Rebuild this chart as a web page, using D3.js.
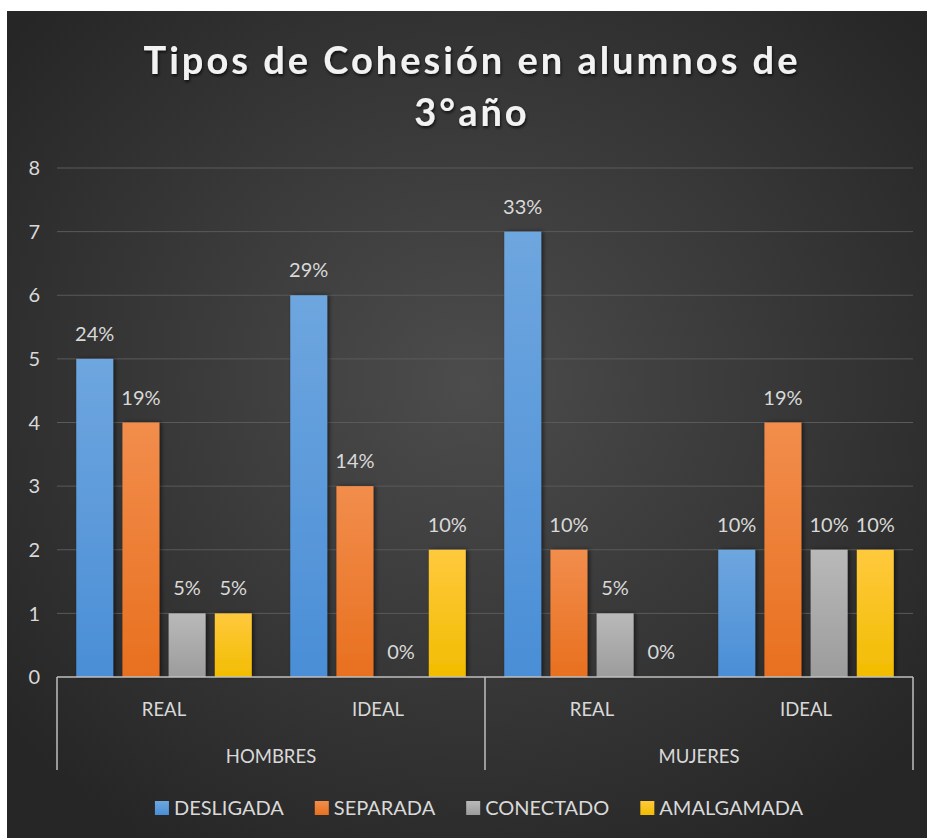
<!DOCTYPE html>
<html lang="es">
<head>
<meta charset="UTF-8">
<title>Tipos de Cohesión en alumnos de 3°año</title>
<script src="https://d3js.org/d3.v7.min.js"></script>
<style>
  body { margin: 0; background: #fff; }
  svg { display: block; }
  text { font-family: Lato, "Open Sans", sans-serif; fill: #d9d9d9; }
</style>
</head>
<body>
<script>
// data
const groups = ["HOMBRES", "MUJERES"];
const subgroups = ["REAL", "IDEAL"];
const seriesNames = ["DESLIGADA", "SEPARADA", "CONECTADO", "AMALGAMADA"];
const desligada = [5, 6, 7, 2];
const separada = [4, 3, 2, 4];
const conectado = [1, 0, 1, 2];
const amalgamada = [1, 2, 0, 2];
const pctLabels = [
  ["24%", "29%", "33%", "10%"],
  ["19%", "14%", "10%", "19%"],
  ["5%", "0%", "5%", "10%"],
  ["5%", "10%", "0%", "10%"]
];
const yTicks = [0, 1, 2, 3, 4, 5, 6, 7, 8];
const colors = [
  ["#6ea6df", "#4a8ed6"],
  ["#f28d4c", "#e8701f"],
  ["#b9b9b9", "#9c9c9c"],
  ["#ffc93e", "#f2bd00"]
];

const width = 927, height = 838;
const values = [desligada, separada, conectado, amalgamada];

// categories: group x subgroup
const cats = [];
groups.forEach(g => subgroups.forEach(s => cats.push(g + "|" + s)));

const svg = d3.select("body").append("svg")
  .attr("width", width)
  .attr("height", height);

const defs = svg.append("defs");
const bg = defs.append("radialGradient")
  .attr("id", "bg")
  .attr("cx", "50%").attr("cy", "45%").attr("r", "65%");
bg.append("stop").attr("offset", "0%").attr("stop-color", "#4c4c4c");
bg.append("stop").attr("offset", "100%").attr("stop-color", "#262626");

colors.forEach((c, i) => {
  const g = defs.append("linearGradient")
    .attr("id", "bar" + i)
    .attr("x1", 0).attr("y1", 0).attr("x2", 0).attr("y2", 1);
  g.append("stop").attr("offset", "0%").attr("stop-color", c[0]);
  g.append("stop").attr("offset", "100%").attr("stop-color", c[1]);
});

const shadow = defs.append("filter").attr("id", "shadow")
  .attr("x", "-30%").attr("y", "-10%").attr("width", "160%").attr("height", "120%");
shadow.append("feDropShadow")
  .attr("dx", 2).attr("dy", 0).attr("stdDeviation", 2)
  .attr("flood-color", "#000").attr("flood-opacity", 0.55);

const tshadow = defs.append("filter").attr("id", "tshadow");
tshadow.append("feDropShadow")
  .attr("dx", 1).attr("dy", 2).attr("stdDeviation", 1.5)
  .attr("flood-color", "#000").attr("flood-opacity", 0.7);

// chart area background
svg.append("rect")
  .attr("x", 7).attr("y", 11)
  .attr("width", width - 7).attr("height", height - 11)
  .attr("fill", "url(#bg)");

// title
const title = svg.append("g").attr("filter", "url(#tshadow)");
[["Tipos de Cohesión en alumnos de", 74], ["3°año", 126]].forEach(([t, y]) => {
  title.append("text")
    .attr("x", 472).attr("y", y)
    .attr("text-anchor", "middle")
    .attr("font-size", 38)
    .attr("font-weight", 700)
    .attr("letter-spacing", 3)
    .style("fill", "#f2f2f2")
    .text(t);
});

const left = 57, right = 913;
const y = d3.scaleLinear().domain([0, 8]).range([677, 168]);

const x0 = d3.scaleBand().domain(cats).range([left, right])
  .paddingInner(0.18).paddingOuter(0.09);
const x1 = d3.scaleBand().domain(d3.range(seriesNames.length))
  .range([0, x0.bandwidth()]).paddingInner(0.2);

// gridlines
svg.append("g")
  .selectAll("line")
  .data(yTicks.filter(d => d > 0))
  .join("line")
  .attr("x1", left).attr("x2", right)
  .attr("y1", d => y(d)).attr("y2", d => y(d))
  .attr("stroke", "#5a5a5a")
  .attr("stroke-width", 1);

// y tick labels
svg.append("g")
  .selectAll("text")
  .data(yTicks)
  .join("text")
  .attr("x", 40)
  .attr("y", d => y(d))
  .attr("dy", "0.36em")
  .attr("text-anchor", "end")
  .attr("font-size", 20)
  .text(d => d);

// bars
const barData = [];
values.forEach((arr, si) => arr.forEach((v, ci) => {
  barData.push({ s: si, c: cats[ci], v: v, label: pctLabels[si][ci] });
}));

svg.append("g")
  .selectAll("rect")
  .data(barData.filter(d => d.v > 0))
  .join("rect")
  .attr("x", d => x0(d.c) + x1(d.s))
  .attr("y", d => y(d.v))
  .attr("width", x1.bandwidth())
  .attr("height", d => y(0) - y(d.v))
  .attr("fill", d => "url(#bar" + d.s + ")")
  .attr("filter", "url(#shadow)");

// data labels
svg.append("g")
  .selectAll("text")
  .data(barData)
  .join("text")
  .attr("x", d => x0(d.c) + x1(d.s) + x1.bandwidth() / 2)
  .attr("y", d => y(d.v) - 18)
  .attr("text-anchor", "middle")
  .attr("font-size", 20)
  .text(d => d.label);

// category axis
const axis = svg.append("g").attr("stroke", "#bfbfbf").attr("stroke-width", 1.5);
axis.append("line")
  .attr("x1", left).attr("x2", right)
  .attr("y1", y(0)).attr("y2", y(0));
const groupEdges = [left, x0(cats[2]) - x0.step() * x0.paddingInner() / 2, right];
axis.selectAll(".sep")
  .data(groupEdges)
  .join("line")
  .attr("x1", d => d).attr("x2", d => d)
  .attr("y1", y(0)).attr("y2", 770);

svg.append("g")
  .selectAll("text")
  .data(cats)
  .join("text")
  .attr("x", d => x0(d) + x0.bandwidth() / 2)
  .attr("y", 716)
  .attr("text-anchor", "middle")
  .attr("font-size", 18.5)
  .text(d => d.split("|")[1]);

svg.append("g")
  .selectAll("text")
  .data(groups)
  .join("text")
  .attr("x", (d, i) => (groupEdges[i] + groupEdges[i + 1]) / 2)
  .attr("y", 763)
  .attr("text-anchor", "middle")
  .attr("font-size", 18.5)
  .text(d => d);

// legend
const legend = svg.append("g");
const items = legend.selectAll("g")
  .data(seriesNames)
  .join("g");
items.append("rect")
  .attr("width", 14).attr("height", 14)
  .attr("y", 801)
  .attr("fill", (d, i) => "url(#bar" + i + ")");
items.append("text")
  .attr("x", 19).attr("y", 815)
  .attr("font-size", 20)
  .text(d => d);
let lx = 0;
items.each(function () {
  const g = d3.select(this);
  g.attr("transform", `translate(${lx},0)`);
  lx += 19 + g.select("text").node().getComputedTextLength() + 31;
});
const legendWidth = lx - 31;
legend.attr("transform", `translate(${479 - legendWidth / 2},0)`);
</script>
</body>
</html>
